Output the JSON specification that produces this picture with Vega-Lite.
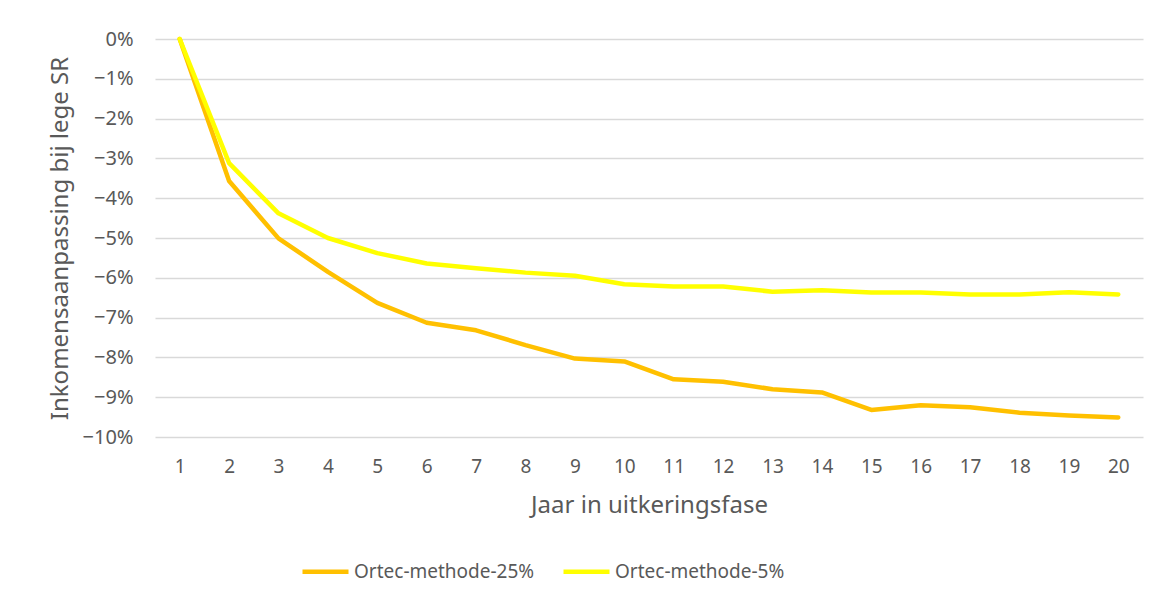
{
  "$schema": "https://vega.github.io/schema/vega-lite/v6.json",
  "width": 988,
  "height": 398,
  "autosize": {"type": "none"},
  "padding": {"left": 155, "top": 39, "right": 15, "bottom": 164},
  "background": "white",
  "data": {
    "values": [
      {"jaar": 1, "reeks": "Ortec-methode-25%", "waarde": 0},
      {"jaar": 2, "reeks": "Ortec-methode-25%", "waarde": -0.0357},
      {"jaar": 3, "reeks": "Ortec-methode-25%", "waarde": -0.0501},
      {"jaar": 4, "reeks": "Ortec-methode-25%", "waarde": -0.0585},
      {"jaar": 5, "reeks": "Ortec-methode-25%", "waarde": -0.0663},
      {"jaar": 6, "reeks": "Ortec-methode-25%", "waarde": -0.0713},
      {"jaar": 7, "reeks": "Ortec-methode-25%", "waarde": -0.0732},
      {"jaar": 8, "reeks": "Ortec-methode-25%", "waarde": -0.0769},
      {"jaar": 9, "reeks": "Ortec-methode-25%", "waarde": -0.0803},
      {"jaar": 10, "reeks": "Ortec-methode-25%", "waarde": -0.0810},
      {"jaar": 11, "reeks": "Ortec-methode-25%", "waarde": -0.0855},
      {"jaar": 12, "reeks": "Ortec-methode-25%", "waarde": -0.0861},
      {"jaar": 13, "reeks": "Ortec-methode-25%", "waarde": -0.0880},
      {"jaar": 14, "reeks": "Ortec-methode-25%", "waarde": -0.0888},
      {"jaar": 15, "reeks": "Ortec-methode-25%", "waarde": -0.0932},
      {"jaar": 16, "reeks": "Ortec-methode-25%", "waarde": -0.0920},
      {"jaar": 17, "reeks": "Ortec-methode-25%", "waarde": -0.0925},
      {"jaar": 18, "reeks": "Ortec-methode-25%", "waarde": -0.0939},
      {"jaar": 19, "reeks": "Ortec-methode-25%", "waarde": -0.0946},
      {"jaar": 20, "reeks": "Ortec-methode-25%", "waarde": -0.0951},
      {"jaar": 1, "reeks": "Ortec-methode-5%", "waarde": 0},
      {"jaar": 2, "reeks": "Ortec-methode-5%", "waarde": -0.0312},
      {"jaar": 3, "reeks": "Ortec-methode-5%", "waarde": -0.0438},
      {"jaar": 4, "reeks": "Ortec-methode-5%", "waarde": -0.0500},
      {"jaar": 5, "reeks": "Ortec-methode-5%", "waarde": -0.0538},
      {"jaar": 6, "reeks": "Ortec-methode-5%", "waarde": -0.0564},
      {"jaar": 7, "reeks": "Ortec-methode-5%", "waarde": -0.0576},
      {"jaar": 8, "reeks": "Ortec-methode-5%", "waarde": -0.0587},
      {"jaar": 9, "reeks": "Ortec-methode-5%", "waarde": -0.0595},
      {"jaar": 10, "reeks": "Ortec-methode-5%", "waarde": -0.0616},
      {"jaar": 11, "reeks": "Ortec-methode-5%", "waarde": -0.0622},
      {"jaar": 12, "reeks": "Ortec-methode-5%", "waarde": -0.0622},
      {"jaar": 13, "reeks": "Ortec-methode-5%", "waarde": -0.0635},
      {"jaar": 14, "reeks": "Ortec-methode-5%", "waarde": -0.0631},
      {"jaar": 15, "reeks": "Ortec-methode-5%", "waarde": -0.0637},
      {"jaar": 16, "reeks": "Ortec-methode-5%", "waarde": -0.0637},
      {"jaar": 17, "reeks": "Ortec-methode-5%", "waarde": -0.0642},
      {"jaar": 18, "reeks": "Ortec-methode-5%", "waarde": -0.0642},
      {"jaar": 19, "reeks": "Ortec-methode-5%", "waarde": -0.0636},
      {"jaar": 20, "reeks": "Ortec-methode-5%", "waarde": -0.0642}
    ]
  },
  "mark": {"type": "line", "strokeWidth": 4.5, "strokeCap": "round", "strokeJoin": "round"},
  "encoding": {
    "x": {
      "field": "jaar",
      "type": "ordinal",
      "title": "Jaar in uitkeringsfase",
      "scale": {"padding": 0.5},
      "axis": {
        "labelAngle": 0,
        "ticks": false,
        "domain": false,
        "grid": false,
        "labelPadding": 20,
        "labelFontSize": 19,
        "labelColor": "#595959",
        "labelFont": "Noto Sans",
        "titleFont": "Noto Sans",
        "titleFontSize": 24,
        "titleFontWeight": "normal",
        "titleColor": "#595959",
        "titlePadding": 17
      }
    },
    "y": {
      "field": "waarde",
      "type": "quantitative",
      "title": "Inkomensaanpassing bij lege SR",
      "scale": {"domain": [-0.1, 0], "nice": false},
      "axis": {
        "format": ".0%",
        "values": [0, -0.01, -0.02, -0.03, -0.04, -0.05, -0.06, -0.07, -0.08, -0.09, -0.1],
        "ticks": false,
        "domain": false,
        "grid": true,
        "gridColor": "#d9d9d9",
        "gridWidth": 1.5,
        "labelPadding": 22,
        "labelFontSize": 20,
        "labelColor": "#595959",
        "labelFont": "Noto Sans",
        "titleFont": "Noto Sans",
        "titleFontSize": 24,
        "titleFontWeight": "normal",
        "titleColor": "#595959",
        "titlePadding": 10
      }
    },
    "color": {
      "field": "reeks",
      "type": "nominal",
      "scale": {"domain": ["Ortec-methode-25%", "Ortec-methode-5%"], "range": ["#FFC000", "#FFFF00"]},
      "legend": {
        "title": null,
        "orient": "none",
        "direction": "horizontal",
        "legendX": 145,
        "legendY": 507,
        "symbolType": "stroke",
        "symbolSize": 2116,
        "symbolStrokeWidth": 4.5,
        "labelFontSize": 19,
        "labelLimit": 0,
        "labelColor": "#595959",
        "labelFont": "Noto Sans",
        "labelOffset": 3,
        "columnPadding": 19
      }
    }
  },
  "config": {
    "view": {"stroke": null}
  }
}
